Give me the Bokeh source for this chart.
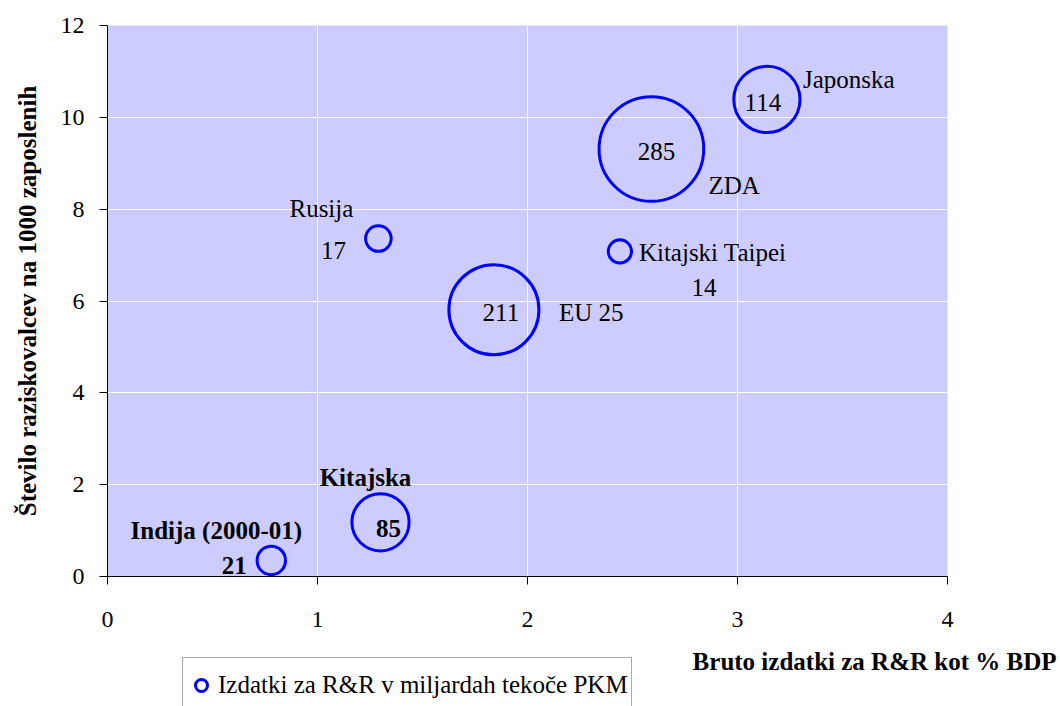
import math
from bokeh.plotting import figure
from bokeh.layouts import column
from bokeh.models import Range1d, FixedTicker, Legend, LegendItem, Title, ColumnDataSource
from bokeh.core.properties import value
from bokeh.embed import file_html
from bokeh.resources import INLINE

# ---- data ----
countries = ["Japonska", "ZDA", "Kitajski Taipei", "Rusija", "EU 25", "Kitajska", "Indija (2000-01)"]
rd_pct_gdp = [3.14, 2.59, 2.44, 1.29, 1.84, 1.30, 0.78]
researchers_per_1000 = [10.39, 9.31, 7.08, 7.36, 5.81, 1.18, 0.35]
rd_spend_bn_ppp = [114, 285, 14, 17, 211, 85, 21]
x_ticks = [0, 1, 2, 3, 4]
y_ticks = [0, 2, 4, 6, 8, 10, 12]

x_title = "Bruto izdatki za R&R kot % BDP"
y_title = "Število raziskovalcev na 1000 zaposlenih"
legend_text = "Izdatki za R&R v miljardah tekoče PKM"

# ---- layout of labels (screen px offsets from bubble centre) ----
label_layout = {
    "Japonska":         dict(ndx=36,  ndy=-20, nalign="left",   vdx=-4,  vdy=3,  bold=False),
    "ZDA":              dict(ndx=57,  ndy=36,  nalign="left",   vdx=5,   vdy=2,  bold=False),
    "Kitajski Taipei":  dict(ndx=19,  ndy=1,   nalign="left",   vdx=84,  vdy=36, bold=False),
    "Rusija":           dict(ndx=-57, ndy=-30, nalign="center", vdx=-45, vdy=12, bold=False),
    "EU 25":            dict(ndx=65,  ndy=3,   nalign="left",   vdx=7,   vdy=3,  bold=False),
    "Kitajska":         dict(ndx=-15, ndy=-45, nalign="center", vdx=8,   vdy=6,  bold=True),
    "Indija (2000-01)": dict(ndx=-55, ndy=-30, nalign="center", vdx=-37, vdy=5,  bold=True),
}

FONT = "Liberation Serif"
BLUE = "#0000FF"
W = 1060
H_MAIN = 684
FOOT_OVERLAP = 29
H_FOOT = 706 - H_MAIN + FOOT_OVERLAP
LEGEND_H = 54

source = ColumnDataSource(dict(
    x=rd_pct_gdp, y=researchers_per_1000, spend=rd_spend_bn_ppp,
    size=[6.2 * math.sqrt(v) for v in rd_spend_bn_ppp],
))

p = figure(width=W, height=H_MAIN, output_backend="svg", toolbar_location=None,
           x_range=Range1d(0, 4), y_range=Range1d(0, 12),
           min_border_left=107, min_border_right=113, min_border_top=25, min_border_bottom=108)

p.background_fill_color = "#CCCCFF"
p.border_fill_color = "white"
p.outline_line_color = None

p.xaxis.ticker = FixedTicker(ticks=x_ticks)
p.yaxis.ticker = FixedTicker(ticks=y_ticks)
for ax in (p.xaxis, p.yaxis):
    ax.axis_line_color = "black"
    ax.major_tick_line_color = "black"
    ax.minor_tick_line_color = None
    ax.major_tick_in = 0
    ax.major_tick_out = 8
    ax.major_label_text_font = FONT
    ax.major_label_text_font_size = "24px"
    ax.major_label_text_color = "black"
p.xaxis.major_label_standoff = 27
p.yaxis.major_label_standoff = 15

# tiny spacer below the x tick labels so the title sits a little lower
p.xaxis.axis_label = " "
p.xaxis.axis_label_text_font_size = "4px"
p.xaxis.axis_label_standoff = 0

p.yaxis.axis_label = y_title
p.yaxis.axis_label_text_font = FONT
p.yaxis.axis_label_text_font_size = "25px"
p.yaxis.axis_label_text_font_style = "bold"
p.yaxis.axis_label_text_color = "black"
p.yaxis.axis_label_standoff = 17

p.xgrid.grid_line_color = "white"
p.ygrid.grid_line_color = "white"
p.xgrid.grid_line_width = 1
p.ygrid.grid_line_width = 1

p.scatter("x", "y", size="size", source=source, marker="circle",
          fill_color=None, line_color=BLUE, line_width=3)

for name, xv, yv, val in zip(countries, rd_pct_gdp, researchers_per_1000, rd_spend_bn_ppp):
    L = label_layout[name]
    style = "bold" if L["bold"] else "normal"
    p.text(x=[xv], y=[yv], text=[name], x_offset=L["ndx"], y_offset=L["ndy"],
           text_align=L["nalign"], text_baseline="middle",
           text_font=value(FONT), text_font_size="25px", text_font_style=style,
           text_color="black")
    p.text(x=[xv], y=[yv], text=[str(val)], x_offset=L["vdx"], y_offset=L["vdy"],
           text_align="center", text_baseline="middle",
           text_font=value(FONT), text_font_size="25px", text_font_style=style,
           text_color="black")

# x-axis title (right aligned near the page edge), in the panel below the axis
xt = Title(text=x_title, align="right", offset=-109, standoff=17,
           text_font=FONT, text_font_size="25px", text_font_style="bold",
           text_color="black")
p.add_layout(xt, "below")

# ---- footer strip holding the legend box (transparent, slightly overlapping) ----
# its ranges lie outside the data so the proxy renderer only shows in the legend
f = figure(width=W, height=H_FOOT, output_backend="svg", toolbar_location=None,
           x_range=Range1d(-2, -1), y_range=Range1d(-2, -1),
           x_axis_location=None, y_axis_location=None,
           min_border=0, min_border_left=0, min_border_right=0,
           min_border_top=0, min_border_bottom=0,
           margin=(-FOOT_OVERLAP, 0, 0, 0))
f.outline_line_color = None
f.background_fill_alpha = 0
f.border_fill_alpha = 0
f.xgrid.visible = False
f.ygrid.visible = False

legend_proxy = f.scatter("x", "y", source=source, marker="circle", size=12,
                         fill_color=None, line_color=BLUE, line_width=3)
legend = Legend(items=[LegendItem(label=legend_text, renderers=[legend_proxy], index=0)],
                location=(75, H_FOOT - LEGEND_H - 4), orientation="vertical",
                label_text_font=FONT, label_text_font_size="25px", label_text_color="black",
                glyph_width=30, glyph_height=48, label_height=48, label_standoff=2,
                padding=3, margin=0, spacing=0,
                border_line_color="#555555", border_line_width=1,
                background_fill_color="white", background_fill_alpha=1.0)
f.add_layout(legend, "center")

layout = column(p, f, spacing=0)
open("out.html", "w").write(file_html(layout, INLINE))
